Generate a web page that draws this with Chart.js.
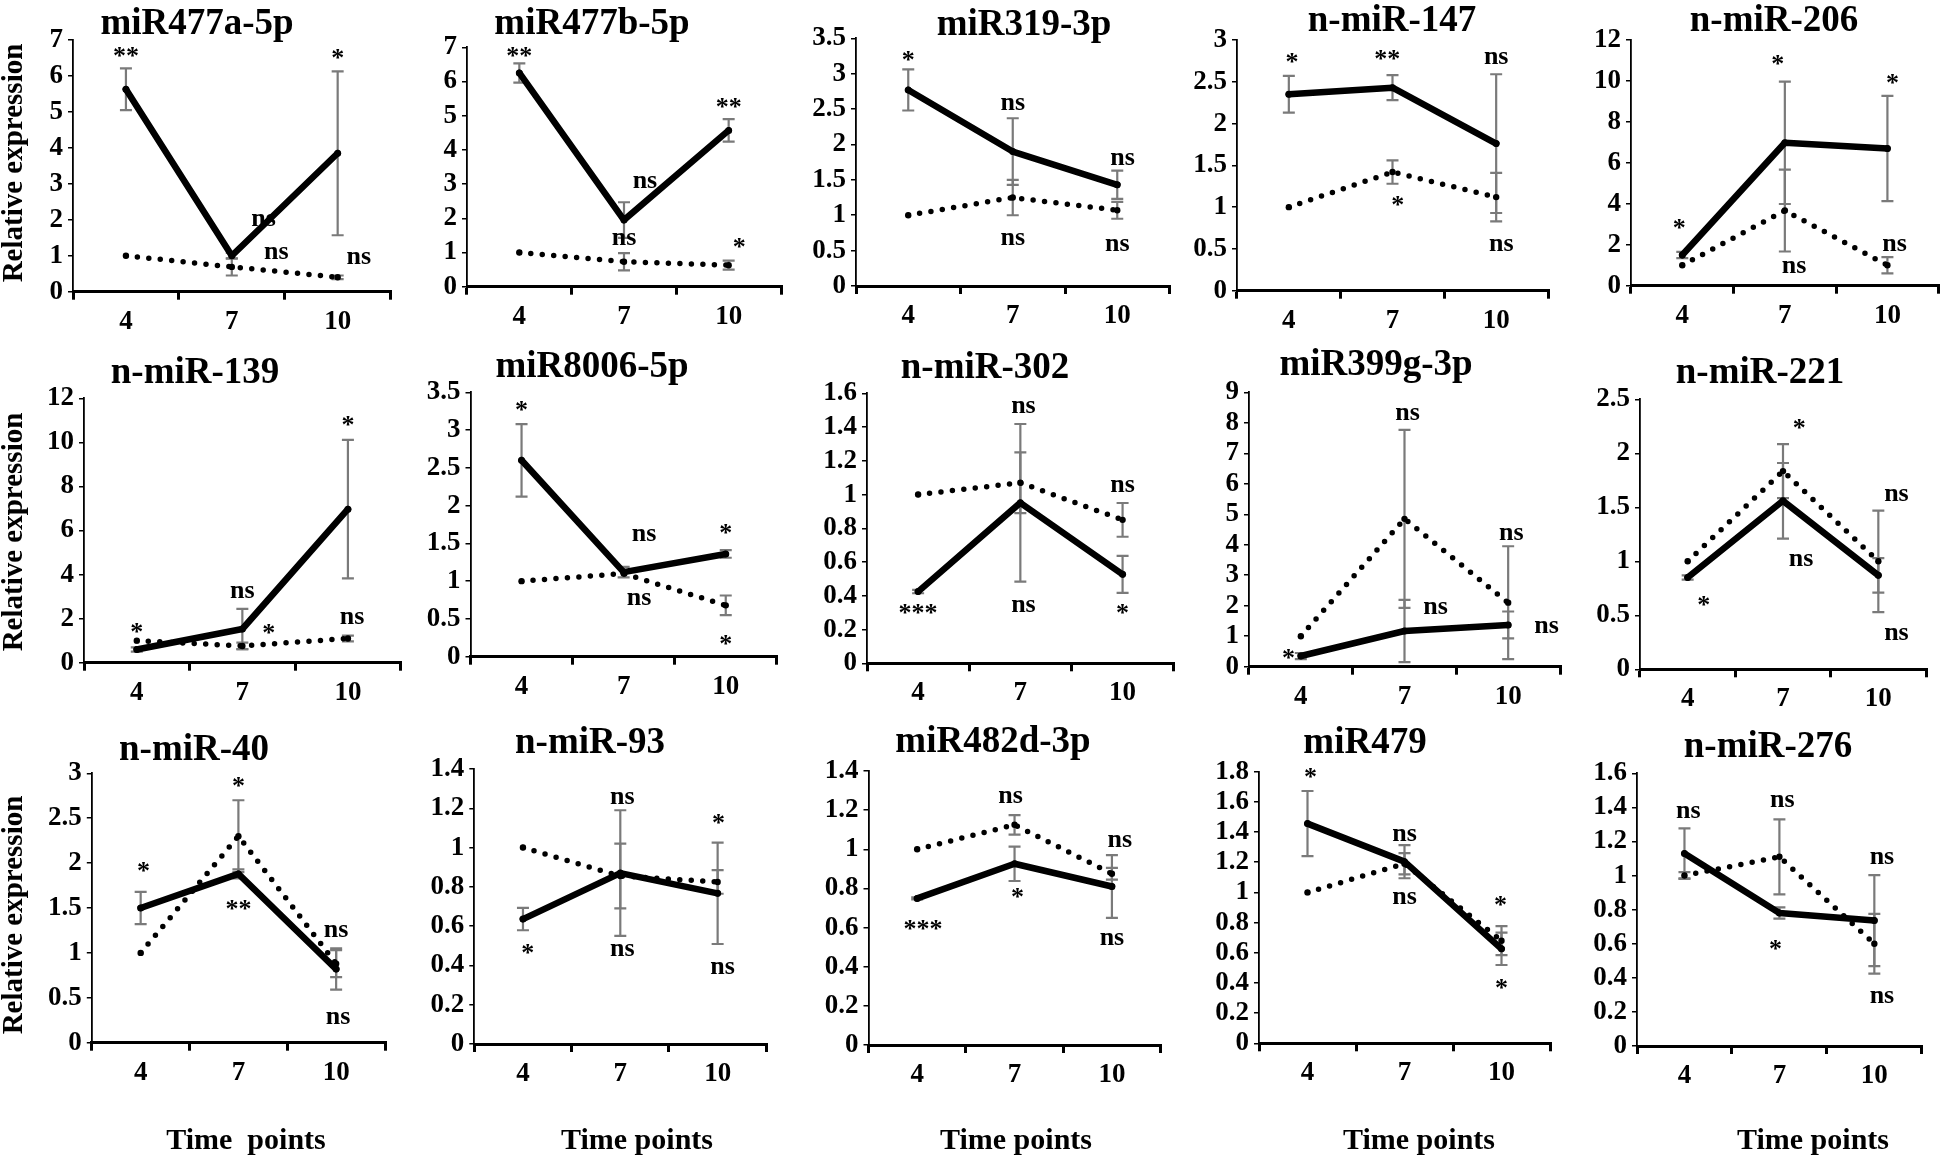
<!DOCTYPE html>
<html>
<head>
<meta charset="utf-8">
<script src="https://cdn.jsdelivr.net/npm/chart.js@4.4.1/dist/chart.umd.min.js"></script>
<style>
  html, body { margin: 0; padding: 0; background: #ffffff; }
  body { width: 1947px; height: 1156px; position: relative; overflow: hidden; }
  canvas { position: absolute; }
</style>
</head>
<body>
<script>
// ---------------- DATA ----------------
const categories = ['4', '7', '10'];
const panelTitles = ['miR477a-5p', 'miR477b-5p', 'miR319-3p', 'n-miR-147', 'n-miR-206',
                     'n-miR-139', 'miR8006-5p', 'n-miR-302', 'miR399g-3p', 'n-miR-221',
                     'n-miR-40', 'n-miR-93', 'miR482d-3p', 'miR479', 'n-miR-276'];
const yAxisMax  = [7, 7, 3.5, 3, 12, 12, 3.5, 1.6, 9, 2.5, 3, 1.4, 1.4, 1.8, 1.6];
const yAxisStep = [1, 1, 0.5, 0.5, 2, 2, 0.5, 0.2, 1, 0.5, 0.5, 0.2, 0.2, 0.2, 0.2];
const yAxisTitle = 'Relative expression';
const xAxisTitles = ['Time  points', 'Time points', 'Time points', 'Time points', 'Time points'];

// miR477a-5p
const p01Solid = [5.63, 1.00, 3.85];   const p01SolidErr = [0.58, 0.08, 2.28];
const p01Dotted = [1.00, 0.69, 0.40];  const p01DottedErr = [0, 0.24, 0.05];
const p01Marks = [['**', 0, 6.7], ['ns', 1.3, 2.0], ['ns', 1.42, 1.08], ['*', 2, 6.65], ['ns', 2.2, 0.95]];
// miR477b-5p
const p02Solid = [6.25, 1.95, 4.57];   const p02SolidErr = [0.28, 0.52, 0.33];
const p02Dotted = [1.00, 0.73, 0.63];  const p02DottedErr = [0, 0.25, 0.13];
const p02Marks = [['**', 0, 6.9], ['ns', 1.2, 3.05], ['ns', 1.0, 1.4], ['**', 2.0, 5.4], ['*', 2.1, 1.3]];
// miR319-3p
const p03Solid = [2.77, 1.90, 1.43];   const p03SolidErr = [0.29, 0.47, 0.20];
const p03Dotted = [1.00, 1.25, 1.07];  const p03DottedErr = [0, 0.25, 0.12];
const p03Marks = [['*', 0, 3.26], ['ns', 1.0, 2.57], ['ns', 1.0, 0.66], ['ns', 2.05, 1.80], ['ns', 2.0, 0.58]];
// n-miR-147
const p04Solid = [2.35, 2.43, 1.76];   const p04SolidErr = [0.22, 0.15, 0.83];
const p04Dotted = [1.00, 1.42, 1.12];  const p04DottedErr = [0, 0.14, 0.29];
const p04Marks = [['*', 0.03, 2.8], ['**', 0.95, 2.83], ['ns', 2.0, 2.78], ['*', 1.05, 1.08], ['ns', 2.05, 0.55]];
// n-miR-206
const p05Solid = [1.50, 6.98, 6.70];   const p05SolidErr = [0.15, 2.99, 2.57];
const p05Dotted = [1.00, 3.67, 1.00];  const p05DottedErr = [0, 2.0, 0.40];
const p05Marks = [['*', -0.03, 3.08], ['*', 0.93, 11.06], ['*', 2.05, 10.13], ['ns', 1.09, 0.93], ['ns', 2.07, 1.99]];
// n-miR-139
const p06Solid = [0.60, 1.53, 6.97];   const p06SolidErr = [0.10, 0.91, 3.14];
const p06Dotted = [1.00, 0.76, 1.10];  const p06DottedErr = [0, 0.15, 0.13];
const p06Marks = [['*', 0, 1.63], ['ns', 1.0, 3.22], ['*', 1.25, 1.56], ['*', 2.0, 11.0], ['ns', 2.04, 2.01]];
// miR8006-5p
const p07Solid = [2.60, 1.12, 1.36];   const p07SolidErr = [0.48, 0.07, 0.05];
const p07Dotted = [1.00, 1.10, 0.68];  const p07DottedErr = [0, 0, 0.13];
const p07Marks = [['*', 0, 3.33], ['ns', 1.2, 1.61], ['ns', 1.15, 0.76], ['*', 2.0, 1.70], ['*', 2.0, 0.23]];
// n-miR-302
const p08Solid = [0.425, 0.951, 0.527]; const p08SolidErr = [0.01, 0.467, 0.11];
const p08Dotted = [1.00, 1.07, 0.85];   const p08DottedErr = [0, 0.18, 0.10];
const p08Marks = [['ns', 1.03, 1.52], ['ns', 2.0, 1.05], ['***', 0, 0.33], ['ns', 1.03, 0.34], ['*', 2.0, 0.33]];
// miR399g-3p
const p09Solid = [0.35, 1.17, 1.37];   const p09SolidErr = [0.10, 1.02, 0.44];
const p09Dotted = [1.00, 4.85, 2.10];  const p09DottedErr = [0, 2.92, 1.85];
const p09Marks = [['*', -0.12, 0.44], ['ns', 1.03, 8.3], ['ns', 1.3, 1.91], ['ns', 2.03, 4.35], ['ns', 2.37, 1.29]];
// n-miR-221
const p10Solid = [0.85, 1.56, 0.87];   const p10SolidErr = [0.02, 0.35, 0.16];
const p10Dotted = [1.00, 1.835, 1.00]; const p10DottedErr = [0, 0.25, 0.47];
const p10Marks = [['*', 1.17, 2.28], ['ns', 1.19, 1.01], ['ns', 2.19, 1.61], ['*', 0.17, 0.64], ['ns', 2.19, 0.33]];
// n-miR-40
const p11Solid = [1.50, 1.88, 0.82];   const p11SolidErr = [0.18, 0.05, 0.23];
const p11Dotted = [1.00, 2.30, 0.88];  const p11DottedErr = [0, 0.40, 0.15];
const p11Marks = [['*', 0.03, 1.97], ['*', 1.0, 2.91], ['**', 1.0, 1.55], ['ns', 2.0, 1.24], ['ns', 2.02, 0.27]];
// n-miR-93
const p12Solid = [0.636, 0.87, 0.767]; const p12SolidErr = [0.057, 0.32, 0.258];
const p12Dotted = [1.00, 0.855, 0.825]; const p12DottedErr = [0, 0.165, 0.06];
const p12Marks = [['*', 0.05, 0.49], ['ns', 1.02, 1.25], ['ns', 1.02, 0.48], ['*', 2.01, 1.15], ['ns', 2.05, 0.385]];
// miR482d-3p
const p13Solid = [0.749, 0.926, 0.81]; const p13SolidErr = [0.005, 0.088, 0.16];
const p13Dotted = [1.00, 1.125, 0.875]; const p13DottedErr = [0, 0.05, 0.03];
const p13Marks = [['ns', 0.96, 1.266], ['*', 1.03, 0.784], ['***', 0.06, 0.62], ['ns', 2.08, 1.04], ['ns', 2.0, 0.54]];
// miR479
const p14Solid = [1.456, 1.204, 0.626]; const p14SolidErr = [0.216, 0.11, 0.107];
const p14Dotted = [1.00, 1.19, 0.68];   const p14DottedErr = [0, 0.07, 0.096];
const p14Marks = [['*', 0.03, 1.8], ['ns', 1.0, 1.38], ['ns', 1.0, 0.96], ['*', 1.99, 0.95], ['*', 2.0, 0.40]];
// n-miR-276
const p15Solid = [1.13, 0.78, 0.736];  const p15SolidErr = [0.147, 0.033, 0.267];
const p15Dotted = [1.00, 1.11, 0.60];  const p15DottedErr = [0.02, 0.22, 0.175];
const p15Marks = [['ns', 0.04, 1.375], ['ns', 1.03, 1.44], ['*', 0.96, 0.6], ['ns', 2.08, 1.10], ['ns', 2.08, 0.29]];

const solidSeries  = [p01Solid, p02Solid, p03Solid, p04Solid, p05Solid, p06Solid, p07Solid, p08Solid, p09Solid, p10Solid, p11Solid, p12Solid, p13Solid, p14Solid, p15Solid];
const solidErrors  = [p01SolidErr, p02SolidErr, p03SolidErr, p04SolidErr, p05SolidErr, p06SolidErr, p07SolidErr, p08SolidErr, p09SolidErr, p10SolidErr, p11SolidErr, p12SolidErr, p13SolidErr, p14SolidErr, p15SolidErr];
const dottedSeries = [p01Dotted, p02Dotted, p03Dotted, p04Dotted, p05Dotted, p06Dotted, p07Dotted, p08Dotted, p09Dotted, p10Dotted, p11Dotted, p12Dotted, p13Dotted, p14Dotted, p15Dotted];
const dottedErrors = [p01DottedErr, p02DottedErr, p03DottedErr, p04DottedErr, p05DottedErr, p06DottedErr, p07DottedErr, p08DottedErr, p09DottedErr, p10DottedErr, p11DottedErr, p12DottedErr, p13DottedErr, p14DottedErr, p15DottedErr];
const panelMarks   = [p01Marks, p02Marks, p03Marks, p04Marks, p05Marks, p06Marks, p07Marks, p08Marks, p09Marks, p10Marks, p11Marks, p12Marks, p13Marks, p14Marks, p15Marks];

// ---------------- LAYOUT (page pixels) ----------------
const LAYOUT = [
  { l: 73,    r: 390.6,  t: 40,    b: 291.7,  titleX: 197,  titleBase: 34,  yLabelY: 163 },
  { l: 467,   r: 781,    t: 47.3,  b: 286.7,  titleX: 592,  titleBase: 34 },
  { l: 856,   r: 1169.5, t: 38.3,  b: 286,    titleX: 1024, titleBase: 35 },
  { l: 1237,  r: 1548,   t: 40,    b: 290.7,  titleX: 1392, titleBase: 31 },
  { l: 1631,  r: 1938.7, t: 40,    b: 285.7,  titleX: 1774, titleBase: 31 },
  { l: 84,    r: 400.7,  t: 398.3, b: 662.7,  titleX: 195,  titleBase: 383, yLabelY: 532 },
  { l: 470.5, r: 776.8,  t: 392.3, b: 656.7,  titleX: 592,  titleBase: 377 },
  { l: 867,   r: 1173.7, t: 393.3, b: 663.3,  titleX: 985,  titleBase: 378 },
  { l: 1249,  r: 1560,   t: 392.3, b: 666.7,  titleX: 1376, titleBase: 375 },
  { l: 1640,  r: 1926,   t: 399.3, b: 669.3,  titleX: 1760, titleBase: 383 },
  { l: 91.8,  r: 385,    t: 773.3, b: 1042.7, titleX: 194,  titleBase: 760, yLabelY: 915, xLabelX: 246 },
  { l: 474.3, r: 766.3,  t: 769,   b: 1044,   titleX: 590,  titleBase: 753, xLabelX: 637 },
  { l: 868.5, r: 1160.6, t: 771,   b: 1045,   titleX: 993,  titleBase: 752, xLabelX: 1016 },
  { l: 1259,  r: 1550,   t: 771.7, b: 1043.3, titleX: 1365, titleBase: 753, xLabelX: 1419 },
  { l: 1637,  r: 1921.8, t: 773.3, b: 1046,   titleX: 1768, titleBase: 757, xLabelX: 1813 }
];
const ROW_BANDS = [[0, 340], [335, 715], [712, 1156]];
const FONT = '"Liberation Serif", "Times New Roman", serif';
const TICK_SIZE = 27, MARK_SIZE = 26, TITLE_SIZE = 37, YLABEL_SIZE = 29, XLABEL_SIZE = 30;

function drawText(ctx, text, x, y, size, rot) {
  ctx.save();
  ctx.translate(x, y);
  if (rot) ctx.rotate(rot);
  ctx.font = 'bold ' + size + 'px ' + FONT;
  ctx.fillStyle = '#000';
  ctx.textAlign = 'center';
  ctx.textBaseline = 'alphabetic';
  ctx.fillText(text, 0, 0);
  ctx.restore();
}

const errorBarPlugin = {
  id: 'errorBars',
  beforeDatasetsDraw(chart) {
    const ctx = chart.ctx, xs = chart.scales.x, ys = chart.scales.y;
    ctx.save();
    ctx.strokeStyle = '#7a7a7a';
    ctx.lineWidth = 2.2;
    chart.data.datasets.forEach(ds => {
      (ds.errors || []).forEach((e, i) => {
        if (!e) return;
        const x = xs.getPixelForValue(i);
        const v = ds.data[i];
        const y1 = ys.getPixelForValue(v + e), y2 = ys.getPixelForValue(v - e);
        ctx.beginPath();
        ctx.moveTo(x, y1); ctx.lineTo(x, y2);
        ctx.moveTo(x - 6, y1); ctx.lineTo(x + 6, y1);
        ctx.moveTo(x - 6, y2); ctx.lineTo(x + 6, y2);
        ctx.stroke();
      });
    });
    ctx.restore();
  }
};

function makeTextPlugin(i, cl, ct) {
  return {
    id: 'panelText',
    afterDraw(chart) {
      const ctx = chart.ctx, xs = chart.scales.x, ys = chart.scales.y, L = LAYOUT[i];
      drawText(ctx, panelTitles[i], L.titleX - cl, L.titleBase - ct, TITLE_SIZE, 0);
      ctx.save();
      ctx.fillStyle = '#000';
      ctx.font = 'bold ' + MARK_SIZE + 'px ' + FONT;
      ctx.textAlign = 'center';
      ctx.textBaseline = 'alphabetic';
      panelMarks[i].forEach(([t, xi, v]) => {
        const px = xs.getPixelForValue(xi), py = ys.getPixelForValue(v);
        const k = t.indexOf('*') >= 0 ? 0.5 : 0.23;
        ctx.fillText(t, px, py + k * MARK_SIZE);
      });
      ctx.restore();
      if (i % 5 === 0) drawText(ctx, yAxisTitle, 22 - cl, L.yLabelY - ct, YLABEL_SIZE, -Math.PI / 2);
      if (i >= 10) drawText(ctx, xAxisTitles[i - 10], L.xLabelX - cl, 1149 - ct, XLABEL_SIZE, 0);
    }
  };
}

function fmt(v) { return String(Math.round(v * 100) / 100); }

function buildPanel(i) {
  const L = LAYOUT[i];
  const row = Math.floor(i / 5), col = i % 5;
  const cl = col === 0 ? 0 : Math.floor(L.l - 80);
  const cr = Math.min(1947, Math.ceil(L.r + 14));
  const ct = ROW_BANDS[row][0], cb = ROW_BANDS[row][1];
  const canvas = document.createElement('canvas');
  canvas.width = cr - cl; canvas.height = cb - ct;
  canvas.style.left = cl + 'px'; canvas.style.top = ct + 'px';
  canvas.style.width = (cr - cl) + 'px'; canvas.style.height = (cb - ct) + 'px';
  document.body.appendChild(canvas);
  const yW = L.l - cl, xH = cb - L.b;
  const tickFont = { family: FONT, size: TICK_SIZE, weight: 'bold' };
  new Chart(canvas, {
    type: 'line',
    data: {
      labels: categories,
      datasets: [
        { label: 'Solid', data: solidSeries[i], errors: solidErrors[i],
          borderColor: '#000', backgroundColor: '#000', borderWidth: 6.5,
          borderCapStyle: 'round', borderJoinStyle: 'round',
          pointRadius: 3.5, pointBorderWidth: 0, pointBackgroundColor: '#000', tension: 0 },
        { label: 'Dotted', data: dottedSeries[i], errors: dottedErrors[i],
          borderColor: '#000', backgroundColor: '#000', borderWidth: 5.5,
          borderDash: [0, 11.5], borderCapStyle: 'round',
          pointRadius: 3.2, pointBorderWidth: 0, pointBackgroundColor: '#000', tension: 0 }
      ]
    },
    options: {
      responsive: false, animation: false, devicePixelRatio: 1, events: [],
      layout: { padding: { left: 0, right: cr - L.r, top: L.t - ct, bottom: 0 } },
      plugins: { legend: { display: false }, tooltip: { enabled: false }, title: { display: false } },
      scales: {
        x: {
          type: 'category', offset: true,
          grid: { offset: true, drawOnChartArea: false, drawTicks: true, tickLength: 8, color: '#000', lineWidth: 3 },
          border: { display: true, color: '#000', width: 3 },
          ticks: { color: '#000', font: tickFont, padding: 6, maxRotation: 0, autoSkip: false },
          afterFit: s => { s.height = xH; }
        },
        y: {
          min: 0, max: yAxisMax[i],
          grid: { drawOnChartArea: false, drawTicks: true, tickLength: 5, color: '#000', lineWidth: 1.5 },
          border: { display: true, color: '#000', width: 1.8 },
          ticks: { stepSize: yAxisStep[i], autoSkip: false, color: '#000', font: tickFont, padding: 5, callback: v => fmt(v) },
          afterFit: s => { s.width = yW; }
        }
      }
    },
    plugins: [errorBarPlugin, makeTextPlugin(i, cl, ct)]
  });
}

for (let i = 0; i < 15; i++) buildPanel(i);
</script>
</body>
</html>
